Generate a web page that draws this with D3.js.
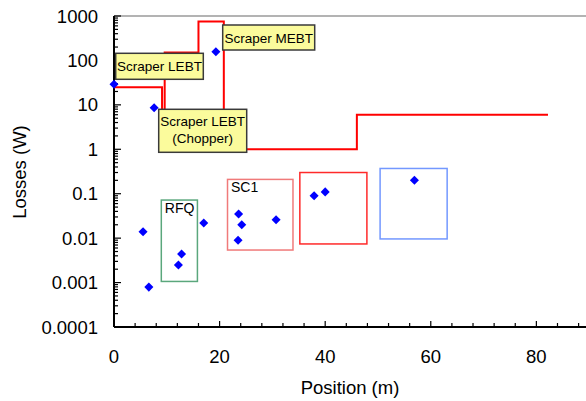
<!DOCTYPE html>
<html>
<head>
<meta charset="utf-8">
<script src="https://cdn.jsdelivr.net/npm/d3@7"></script>
<style>
  body { margin: 0; background: #fff; }
  text { font-family: "Liberation Sans", Arial, sans-serif; }
</style>
</head>
<body>
<div class="chart"></div>
<script>
// step line (loss limit), position in m and losses in W
const limitX = [0, 9.1, 9.1, 9.6, 9.6, 16, 16, 20.8, 20.8, 46, 46, 82.2];
const limitY = [25, 25, 6, 6, 150, 150, 750, 750, 1, 1, 6, 6];

// measured losses (blue diamonds)
const lossX = [0, 7.6, 19.3, 5.5, 6.6, 12.2, 12.8, 17, 23.6, 24.2, 23.5, 30.7, 37.9, 40, 56.9];
const lossY = [29, 8.6, 157, 0.0139, 0.00079, 0.0025, 0.0044, 0.022, 0.035, 0.02, 0.009, 0.026, 0.09, 0.11, 0.2];

// section boxes: [x0, x1, yTop, yBottom]
const sectionNames = ['RFQ', 'SC1', '', ''];
const sectionX0 = [8.96, 21.5, 35.2, 50.4];
const sectionX1 = [15.8, 33.9, 47.9, 63.1];
const sectionTop = [0.072, 0.21, 0.30, 0.37];
const sectionBottom = [0.00106, 0.0054, 0.0074, 0.0096];
const sectionColors = ['#5aa77c', '#f07a7a', '#ff2a2a', '#7398ff'];

const xTicks = [0, 20, 40, 60, 80];
const yTicks = [0.0001, 0.001, 0.01, 0.1, 1, 10, 100, 1000];
const yTickLabels = ['0.0001', '0.001', '0.01', '0.1', '1', '10', '100', '1000'];

// yellow callouts
const notes = [
  { lines: ['Scraper LEBT'], left: 115.7, top: 53.3, w: 87.6, h: 26 },
  { lines: ['Scraper MEBT'], left: 222.7, top: 25, w: 92, h: 25 },
  { lines: ['Scraper LEBT', '(Chopper)'], left: 158.7, top: 109.3, w: 88, h: 43 }
];

var width = 586, height = 401;
var svg = d3.select(".chart").append("svg")
  .attr("width", width).attr("height", height);

var x = d3.scaleLinear().domain([0, 89.4]).range([114, 586]);
var y = d3.scaleLog().domain([0.0001, 1000]).range([327, 16]);

// top frame line
svg.append("line").attr("x1", x(0)).attr("x2", width).attr("y1", y(1000)).attr("y2", y(1000))
  .attr("stroke", "#9a9a9a").attr("stroke-width", 1.5);

// section boxes
sectionNames.forEach((name, i) => {
  svg.append("rect")
    .attr("x", x(sectionX0[i])).attr("y", y(sectionTop[i]))
    .attr("width", x(sectionX1[i]) - x(sectionX0[i]))
    .attr("height", y(sectionBottom[i]) - y(sectionTop[i]))
    .attr("fill", "none").attr("stroke", sectionColors[i]).attr("stroke-width", 1.5);
  if (name) {
    svg.append("text").attr("x", x(sectionX0[i]) + 3.5).attr("y", y(sectionTop[i]) + 13)
      .text(name).style("font-size", "14px").attr("fill", "#000");
  }
});

// axes
var xMinor = d3.range(0, 89.4, 4);
svg.selectAll(".xminor").data(xMinor).enter().append("line")
  .attr("x1", d => x(d)).attr("x2", d => x(d))
  .attr("y1", y(0.0001)).attr("y2", d => y(0.0001) - (d % 20 == 0 ? 6 : 4))
  .attr("stroke", "#000").attr("stroke-width", 1.2);

var yMinor = [];
yTicks.forEach(t => { for (var k = 1; k < 10; k++) if (t * k <= 1000) yMinor.push(t * k); });
svg.selectAll(".yminor").data(yMinor).enter().append("line")
  .attr("x1", x(0)).attr("x2", (d, i) => x(0) + (i % 9 == 0 ? 7 : 4))
  .attr("y1", d => y(d)).attr("y2", d => y(d))
  .attr("stroke", "#000").attr("stroke-width", 1.2);

svg.append("line").attr("x1", x(0)).attr("x2", width).attr("y1", y(0.0001)).attr("y2", y(0.0001))
  .attr("stroke", "#000").attr("stroke-width", 2);
svg.append("line").attr("x1", x(0)).attr("x2", x(0)).attr("y1", y(1000)).attr("y2", y(0.0001))
  .attr("stroke", "#000").attr("stroke-width", 2);

svg.selectAll(".xlab").data(xTicks).enter().append("text")
  .attr("x", d => x(d)).attr("y", 363).attr("text-anchor", "middle")
  .style("font-size", "18.5px").text(d => d);

svg.selectAll(".ylab").data(yTicks).enter().append("text")
  .attr("x", 98).attr("y", d => y(d) + 6.5).attr("text-anchor", "end")
  .style("font-size", "18.5px").text((d, i) => yTickLabels[i]);

svg.append("text").attr("x", 350).attr("y", 394).attr("text-anchor", "middle")
  .style("font-size", "18.5px").text("Position (m)");
svg.append("text").attr("transform", "translate(26,172) rotate(-90)").attr("text-anchor", "middle")
  .style("font-size", "18.5px").text("Losses (W)");

// red step line
var pts = limitX.map((d, i) => [d, limitY[i]]);
svg.append("path")
  .attr("d", d3.line().x(d => x(d[0])).y(d => y(d[1]))(pts))
  .attr("fill", "none").attr("stroke", "#ff0000").attr("stroke-width", 2);

// callouts
notes.forEach(n => {
  svg.append("rect").attr("x", n.left).attr("y", n.top).attr("width", n.w).attr("height", n.h)
    .attr("fill", "#fbfb9c").attr("stroke", "#3a3a3a").attr("stroke-width", 1.5);
  n.lines.forEach((t, j) => {
    svg.append("text").attr("x", n.left + n.w / 2)
      .attr("y", n.top + (n.lines.length == 1 ? n.h / 2 + 5 : 17 + j * 17))
      .attr("text-anchor", "middle").style("font-size", "13.5px").text(t);
  });
});

// diamonds
svg.selectAll(".pt").data(lossX).enter().append("path")
  .attr("d", d3.symbol().type(d3.symbolDiamond2).size(52))
  .attr("transform", (d, i) => "translate(" + x(d) + "," + y(lossY[i]) + ")")
  .attr("fill", "#0000ff");
</script>
</body>
</html>
